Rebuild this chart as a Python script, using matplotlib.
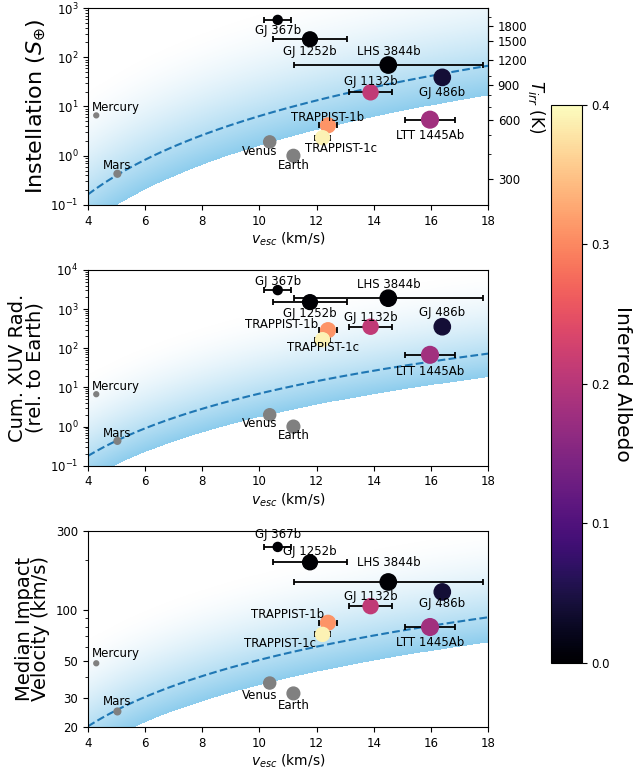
import numpy as np
import matplotlib
matplotlib.use("Agg")
import matplotlib.pyplot as plt
from matplotlib.colors import LinearSegmentedColormap
from matplotlib.ticker import NullFormatter, FixedLocator

# solar system planets
ss_names = ["Mercury", "Venus", "Earth", "Mars"]
ss_vesc = [4.29, 10.36, 11.19, 5.03]
ss_radius = [0.38, 0.95, 1.0, 0.53]
ss_inst = [6.6, 1.91, 1.0, 0.43]
ss_xuv = [6.7, 2.0, 1.0, 0.43]
ss_vimp = [48.2, 36.7, 31.8, 24.8]

# exoplanets
exo_names = ["GJ 367b", "GJ 1252b", "LHS 3844b", "GJ 486b", "GJ 1132b",
             "LTT 1445Ab", "TRAPPIST-1b", "TRAPPIST-1c"]
exo_vesc = [10.64, 11.77, 14.51, 16.40, 13.89, 15.97, 12.40, 12.21]
exo_vesc_err = [0.47, 1.28, 3.3, 0.15, 0.75, 0.87, 0.31, 0.27]
exo_radius = [0.71, 1.16, 1.28, 1.28, 1.18, 1.31, 1.16, 1.10]
exo_albedo = [0.0, 0.0, 0.0, 0.04, 0.21, 0.18, 0.31, 0.39]
exo_inst = [573, 232, 69.5, 39, 19.4, 5.4, 4.15, 2.32]
exo_xuv = [3060, 1510, 1900, 355, 355, 68, 290, 165]
exo_vimp = [240, 194, 148, 129, 106, 79.5, 84.3, 71.8]

# label offsets (pixels) per panel: Mercury, Venus, Earth, Mars, then exoplanets
offs = [
    [(20, 8), (-10, -10), (0, -10), (0, 8),
     (0, -11), (0, -12), (1, 14), (0, -15), (0, 11), (0, -16), (0, 8), (18, -11)],
    [(20, 8), (-10, -9), (0, -9), (0, 7),
     (0, 9), (0, -11), (1, 14), (0, 14), (0, 9), (0, -17), (-46, 6), (0, -8)],
    [(20, 10), (-10, -12), (0, -12), (0, 10),
     (0, 12), (0, 11), (1, 19), (0, -12), (0, 10), (0, -15), (-40, 8), (-43, -9)],
]

band_cmap = LinearSegmentedColormap.from_list(
    "band", [(0.50, 0.78, 0.92, 0.0), (0.50, 0.78, 0.92, 1.0)])

fig = plt.figure(figsize=(6.37, 7.7), dpi=100)
ax1 = fig.add_axes([0.1381, 0.7338, 0.628, 0.2558])
ax2 = fig.add_axes([0.1381, 0.3952, 0.628, 0.2542])
ax3 = fig.add_axes([0.1381, 0.0558, 0.628, 0.2549])
cax = fig.add_axes([0.865, 0.139, 0.048, 0.7247])

vv = np.linspace(4, 18, 400)
panels = [
    (ax1, ss_inst, exo_inst, lambda v: 6.4e-4 * v**4, 4.0, (0.1, 1000), 2.8),
    (ax2, ss_xuv, exo_xuv, lambda v: 6.95e-4 * v**4, 4.0, (0.1, 1e4), 2.8),
    (ax3, ss_vimp, exo_vimp, lambda v: 5.05 * v, np.sqrt(2), (20, 300), 0.7),
]

for k, (ax, ssy, exy, shore, fac, ylim, dec) in enumerate(panels):
    ax.set_yscale("log")
    # shaded band below the shoreline
    yy = np.logspace(np.log10(ylim[0]), np.log10(ylim[1]), 600)
    V, Y = np.meshgrid(vv, yy)
    d = np.log10(Y / (shore(V) / fac)) / dec
    a = np.where(d < 0, 0, 0.9 * np.clip(1 - d, 0, 1) ** 1.8)
    ax.pcolormesh(V, Y, a, cmap=band_cmap, vmin=0, vmax=1, shading="auto",
                  zorder=0, rasterized=True)
    ax.plot(vv, shore(vv), "--", color="#1f77b4", lw=1.5, zorder=1)

    ax.scatter(ss_vesc, ssy, s=84 * np.array(ss_radius)**2, color="gray", zorder=3)
    ax.errorbar(exo_vesc, exy, xerr=exo_vesc_err, fmt="none", ecolor="k",
                elinewidth=1.3, capsize=2.2, capthick=1.3, zorder=2)
    sc = ax.scatter(exo_vesc, exy, s=84 * np.array(exo_radius)**2, c=exo_albedo,
                    cmap="magma", vmin=0, vmax=0.4, zorder=3)

    names = ss_names + exo_names
    xs = ss_vesc + exo_vesc
    ys = ssy + exy
    for n, x, y, o in zip(names, xs, ys, offs[k]):
        ax.annotate(n, (x, y), xytext=o, textcoords="offset pixels",
                    ha="center", va="center", fontsize=8.5, zorder=4)

    ax.set_xlim(4, 18)
    ax.set_ylim(*ylim)
    ax.set_xticks([4, 6, 8, 10, 12, 14, 16, 18])
    ax.tick_params(labelsize=8.5)
    ax.set_xlabel("$v_{esc}$ (km/s)", fontsize=10, labelpad=2)

ax1.set_ylabel("Instellation ($S_{\\oplus}$)", fontsize=16, labelpad=1)
ax2.set_ylabel("Cum. XUV Rad.\n(rel. to Earth)", fontsize=14, linespacing=0.85)
ax3.set_ylabel("Median Impact\nVelocity (km/s)", fontsize=14, linespacing=0.85)

ax3.set_yticks([20, 30, 50, 100, 300])
ax3.set_yticklabels(["20", "30", "50", "100", "300"])
ax3.yaxis.set_minor_formatter(NullFormatter())

# irradiation temperature on the right of the top panel
t0 = 394.0
sec = ax1.secondary_yaxis("right", functions=(lambda s: t0 * np.abs(s)**0.25,
                                              lambda t: (np.abs(t) / t0)**4))
sec.set_yticks([300, 600, 900, 1200, 1500, 1800])
sec.set_yticklabels(["300", "600", "900", "1200", "1500", "1800"])
sec.yaxis.set_minor_locator(FixedLocator([400, 500, 700, 800, 1000, 2000]))
sec.yaxis.set_minor_formatter(NullFormatter())
sec.tick_params(labelsize=8.5)
sec.set_ylabel("$T_{irr}$ (K)", fontsize=12, rotation=270, va="bottom", labelpad=-1)

cb = fig.colorbar(sc, cax=cax)
cb.set_ticks([0.0, 0.1, 0.2, 0.3, 0.4])
cb.ax.tick_params(labelsize=8.5)
cb.set_label("Inferred Albedo", fontsize=14.5, rotation=270, va="bottom", labelpad=2)

fig.savefig("out.png", dpi=100)
